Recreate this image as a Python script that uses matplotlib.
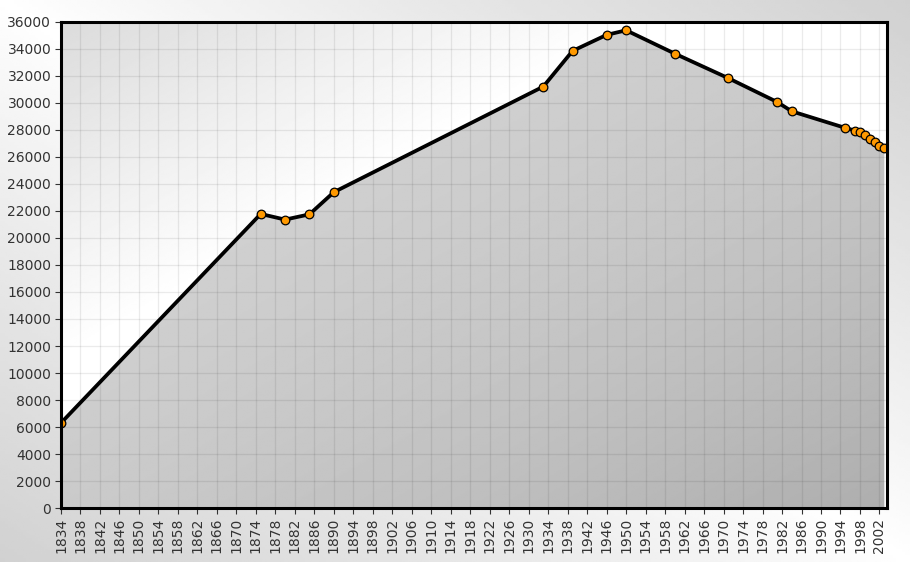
import numpy as np
import matplotlib
matplotlib.use("Agg")
import matplotlib.pyplot as plt
from matplotlib.patches import Polygon

# population data
years = [1834, 1875, 1880, 1885, 1890, 1933, 1939, 1946, 1950, 1960,
         1971, 1981, 1984, 1995, 1997, 1998, 1999, 2000, 2001, 2002, 2003]
population = [6300, 21780, 21360, 21750, 23390, 31210, 33850, 35040, 35380, 33650,
              31830, 30070, 29380, 28150, 27950, 27830, 27650, 27310, 27090, 26840, 26640]

x_ticks = list(range(1834, 2003, 4))
y_ticks = list(range(0, 36001, 2000))

x_min, x_max = 1834, 2003.6
y_min, y_max = 0, 36000

fig = plt.figure(figsize=(9.1, 5.62), dpi=100)

# figure background gradient: light top-left and bottom-right, greyer other corners
bg = fig.add_axes([0, 0, 1, 1], zorder=-10)
gx, gy = np.meshgrid(np.linspace(0, 1, 300), np.linspace(0, 1, 200))
bg_val = 1.0 - 0.18 * np.abs(gx - gy) ** 0.9
bg.imshow(bg_val, cmap="gray", vmin=0, vmax=1, extent=[0, 1, 0, 1],
          origin="upper", aspect="auto")
bg.set_axis_off()

ax = fig.add_axes([0.067, 0.096, 0.908, 0.865])

# axes background: grey in the top-left corner, white towards the middle
u, v = np.meshgrid(np.linspace(0, 1, 400), np.linspace(0, 1, 300))
t = (u + v) / 2
ax_val = 0.86 + 0.14 * np.clip(t / 0.35, 0, 1)
ax.imshow(ax_val, cmap="gray", vmin=0, vmax=1, aspect="auto", origin="upper",
          extent=[x_min, x_max, y_min, y_max], zorder=0)

# grey area under the curve with its own diagonal gradient
fill_val = 0.83 - 0.15 * t ** 2
im = ax.imshow(fill_val, cmap="gray", vmin=0, vmax=1, aspect="auto", origin="upper",
               extent=[x_min, x_max, y_min, y_max], zorder=1)
verts = [(years[0], 0)] + list(zip(years, population)) + [(years[-1], 0)]
poly = Polygon(verts, closed=True, facecolor="none", edgecolor="none")
ax.add_patch(poly)
im.set_clip_path(poly)

ax.set_xlim(x_min, x_max)
ax.set_ylim(y_min, y_max)
ax.set_xticks(x_ticks)
ax.set_yticks(y_ticks)
ax.grid(True, color="black", alpha=0.08, linewidth=0.9, zorder=2)
ax.set_axisbelow(False)

ax.plot(years, population, color="black", linewidth=2.7, zorder=4,
        marker="o", markersize=6.2, markerfacecolor="#ff9900",
        markeredgecolor="black", markeredgewidth=0.9)

ax.tick_params(axis="x", labelrotation=90, labelsize=10, colors="#333333",
               length=4, width=0.8, pad=3)
ax.tick_params(axis="y", labelsize=10, colors="#333333", length=4, width=0.8, pad=3)

for sp in ax.spines.values():
    sp.set_linewidth(2.2)
    sp.set_color("black")
    sp.set_zorder(5)

fig.savefig("out.png", dpi=100)
